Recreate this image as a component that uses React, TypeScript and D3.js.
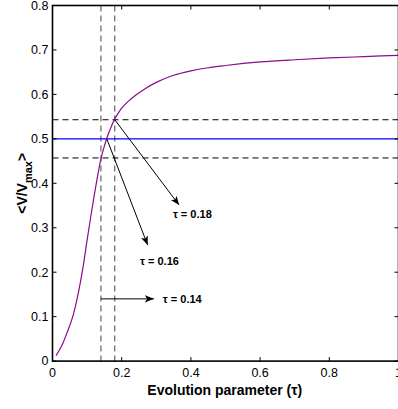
import React from "react";
import * as d3 from "d3";

const tau = [0.01, 0.02, 0.03, 0.04, 0.06, 0.08, 0.09, 0.10, 0.11, 0.12, 0.13, 0.14, 0.15, 0.16, 0.17, 0.18, 0.19, 0.20, 0.22, 0.24, 0.27, 0.30, 0.35, 0.40, 0.45, 0.50, 0.60, 0.70, 0.80, 0.90, 1.00];
const vRatio = [0.012, 0.025, 0.040, 0.060, 0.104, 0.175, 0.22, 0.272, 0.322, 0.370, 0.415, 0.455, 0.484, 0.508, 0.528, 0.545, 0.558, 0.569, 0.585, 0.598, 0.614, 0.627, 0.643, 0.653, 0.660, 0.665, 0.673, 0.678, 0.682, 0.685, 0.688];

const xTicks = [0, 0.2, 0.4, 0.6, 0.8, 1];
const yTicks = [0, 0.1, 0.2, 0.3, 0.4, 0.5, 0.6, 0.7, 0.8];

const refLevel = 0.5;
const dashLevels = [0.457, 0.543];
const dashTaus = [0.14, 0.18];

// annotation arrows: from [tau, v] to [tau, v], label position
const arrowFrom = [[0.18, 0.543], [0.157, 0.5], [0.14, 0.14]];
const arrowTo = [[0.366, 0.351], [0.275, 0.261], [0.293, 0.14]];
const labelPos = [[0.348, 0.331], [0.253, 0.225], [0.319, 0.14]];
const labelText = ["τ = 0.18", "τ = 0.16", "τ = 0.14"];

export default function App() {
  const W = 398, H = 409;
  const left = 52.5, right = 398.5, top = 5.5, bottom = 361.1;
  const x = d3.scaleLinear().domain([0, 1]).range([left, right]);
  const y = d3.scaleLinear().domain([0, 0.8]).range([bottom, top]);
  const line = d3.line<number>().x((_, i) => x(tau[i])).y((d) => y(d)).curve(d3.curveMonotoneX);
  const font = "'Liberation Sans', Arial, sans-serif";

  return (
    <svg width={W} height={H} style={{ position: "absolute", left: 0, top: 0, background: "#fff" }} fontFamily={font}>
      <defs>
        <marker id="ah" viewBox="0 0 10 10" refX="10" refY="5" markerWidth="9" markerHeight="9" orient="auto" markerUnits="userSpaceOnUse">
          <path d="M0,1 L10,5 L0,9 L2.5,5 Z" fill="#000" />
        </marker>
        <clipPath id="cp"><rect x={left} y={top} width={right - left} height={bottom - top} /></clipPath>
      </defs>
      <rect x={0} y={0} width={W} height={H} fill="#fff" />
      <g clipPath="url(#cp)">
        {dashTaus.map((t, i) => (
          <line key={"vt" + i} x1={x(t)} x2={x(t)} y1={top} y2={bottom} stroke="#444" strokeWidth={1} strokeDasharray="6,4" />
        ))}
        {dashLevels.map((l, i) => (
          <line key={"hl" + i} x1={left} x2={right} y1={y(l)} y2={y(l)} stroke="#000" strokeWidth={1} strokeDasharray="6,4" />
        ))}
        <line x1={left} x2={right} y1={y(refLevel)} y2={y(refLevel)} stroke="#0000ff" strokeWidth={1.2} />
        <path d={line(vRatio) || ""} fill="none" stroke="#8c0a8c" strokeWidth={1.2} />
      </g>
      {arrowFrom.map((f, i) => (
        <line key={"ar" + i} x1={x(f[0])} y1={y(f[1])} x2={x(arrowTo[i][0])} y2={y(arrowTo[i][1])} stroke="#000" strokeWidth={1} markerEnd="url(#ah)" />
      ))}
      {labelPos.map((p, i) => (
        <text key={"lb" + i} x={x(p[0])} y={y(p[1])} dy="0.35em" fontSize={11} fontWeight="bold" fill="#000">{labelText[i]}</text>
      ))}
      {/* frame */}
      <rect x={left} y={top} width={right - left} height={bottom - top} fill="none" stroke="#000" strokeWidth={1.6} />
      {xTicks.map((t, i) => (
        <g key={"xt" + i}>
          <line x1={x(t)} x2={x(t)} y1={bottom} y2={bottom - 4} stroke="#000" />
          <line x1={x(t)} x2={x(t)} y1={top} y2={top + 4} stroke="#000" />
          <text x={x(t)} y={bottom + 16} textAnchor="middle" fontSize={12.5} fill="#000">{d3.format("~g")(t)}</text>
        </g>
      ))}
      {yTicks.map((t, i) => (
        <g key={"yt" + i}>
          <line x1={left} x2={left + 4} y1={y(t)} y2={y(t)} stroke="#000" />
          <line x1={right} x2={right - 4} y1={y(t)} y2={y(t)} stroke="#000" />
          <text x={left - 4} y={y(t)} dy="0.35em" textAnchor="end" fontSize={12.5} fill="#000">{d3.format("~g")(t)}</text>
        </g>
      ))}
      <text x={(left + 397) / 2} y={395} textAnchor="middle" fontSize={14} fontWeight="bold" fill="#000">Evolution parameter (τ)</text>
      <text transform={`translate(27,${(top + bottom) / 2}) rotate(-90)`} textAnchor="middle" fontSize={14} fontWeight="bold" fill="#000">
        {"<V/V"}<tspan fontSize={11} dy={5}>max</tspan><tspan dy={-5}>{">"}</tspan>
      </text>
    </svg>
  );
}
